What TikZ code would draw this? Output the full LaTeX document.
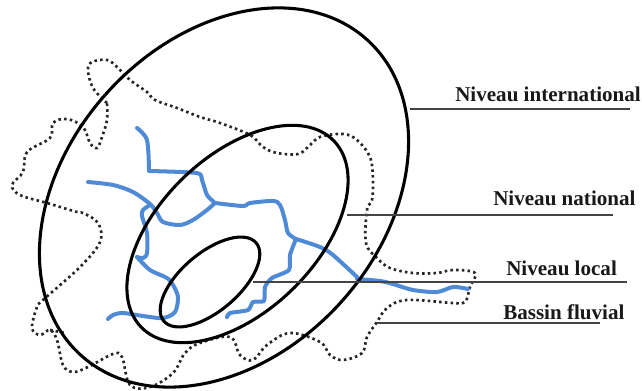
\documentclass[tikz,border=0pt]{standalone}
\usepackage{fontspec}
\setmainfont{Liberation Serif}
\tikzset{
  ring/.style={draw=black,line width=2.3pt},
  basin/.style={draw=black!85,line width=2pt,line cap=butt,dash pattern=on 1.9pt off 2.4pt},
  river/.style={draw=riverblue,line width=3pt,line cap=round,line join=round},
  leader/.style={draw=leadgray,line width=1.2pt},
  lab/.style={anchor=base west,inner sep=0pt,font=\fontsize{15.8pt}{18pt}\selectfont\bfseries,text=black!90}
}
\definecolor{riverblue}{HTML}{4F8AD6}
\definecolor{leadgray}{HTML}{444444}
\begin{document}
\begin{tikzpicture}[x=0.75pt,y=-0.75pt]
\useasboundingbox (0,0) rectangle (642,391);
% basin boundary
\draw[basin] plot[smooth,tension=0.6] coordinates {
(107,103)(93,88)(88,70)(92,62)(107,60)(117,67)(130,80)(147,92)(155,100)(177,108)(200,117)(220,123)
(250,135)(263,147)(277,153)(298,154)(308,147)(320,137)(343,134)(357,140)(370,157)(373,180)(372,200)(367,210)
(366,243)(377,258)(390,268)(413,273)(437,273)(453,270)(475,273)(470,287)(465,302)(453,303)(407,300)(387,308)
(377,322)(367,337)(362,353)(343,360)(330,355)(320,342)(290,333)(267,345)(253,360)(240,355)(230,337)(200,343)
(185,353)(173,373)(150,387)(130,385)(122,357)(113,354)(88,367)(73,372)(63,365)(57,340)(50,330)(40,335)(32,328)
(37,307)(43,300)(80,267)(100,242)(98,223)(83,213)(77,212)(47,203)(20,195)(12,185)(23,172)(27,152)(50,138)(53,123)
(67,119)(83,127)(90,143)(97,148)(102,137)(107,120)(107,103)};
\draw[basin] (50,330) -- (65,333);
% rivers
\draw[river] plot[smooth,tension=0.5] coordinates {(137,128)(147,140)(149,170)};
\draw[river] plot[smooth,tension=0.4] coordinates {(149,171)(197,173)(202,180)(207,195)(215,203)};
\draw[river] plot[smooth,tension=0.5] coordinates {(215,203)(207,210)(193,220)(180,225)(163,222)(157,213)(150,204)(133,192)(113,185)(88,182)};
\draw[river] plot[smooth,tension=0.5] coordinates {(150,205)(143,210)(142,216)(147,233)(147,253)(143,258)(137,257)};
\draw[river] plot[smooth,tension=0.5] coordinates {(137,257)(150,270)(167,278)(173,285)(178,297)(175,312)(163,318)(143,316)(123,313)(113,315)(108,319)};
\draw[river] plot[smooth,tension=0.5] coordinates {(215,203)(243,206)(250,203)(273,201)(280,205)(285,220)(288,233)(296,239)};
\draw[river] plot[smooth,tension=0.5] coordinates {(296,239)(320,247)(333,255)(357,277)};
\draw[river] plot[smooth,tension=0.5] coordinates {(357,279)(380,281)(393,284)(413,290)(437,292)(453,287)(468,289)};
\draw[river] plot[smooth,tension=0.4] coordinates {(296,239)(290,255)(289,270)(272,278)(265,287)(264,301)(253,302)(248,310)(230,313)(227,317)};
% rings
\draw[ring,shift={(224,197.5)},rotate=47.6] (0,0) ellipse [x radius=213,y radius=157];
\draw[ring,shift={(237.5,234)},rotate=44] (0,0) ellipse [x radius=134,y radius=78];
\draw[ring,shift={(210,282)},rotate=40.3] (0,0) ellipse [x radius=60.5,y radius=29];
% labels and leaders
\node[lab] (li) at (455,102) {Niveau international};
\node[lab] (ln) at (493,206) {Niveau national};
\node[lab] (ll) at (506,276) {Niveau local};
\node[lab] (lb) at (503,320) {Bassin fluvial};
\coordinate (ai) at (410,109); \coordinate (bi) at (630,109);
\coordinate (an) at (347,215); \coordinate (bn) at (613,215);
\coordinate (al) at (253,282); \coordinate (bl) at (627,282);
\coordinate (ab) at (377,323); \coordinate (bb) at (600,323);
\draw[leader] (ai) -- (bi);
\draw[leader] (an) -- (bn);
\draw[leader] (al) -- (bl);
\draw[leader] (ab) -- (bb);
\end{tikzpicture}
\end{document}
